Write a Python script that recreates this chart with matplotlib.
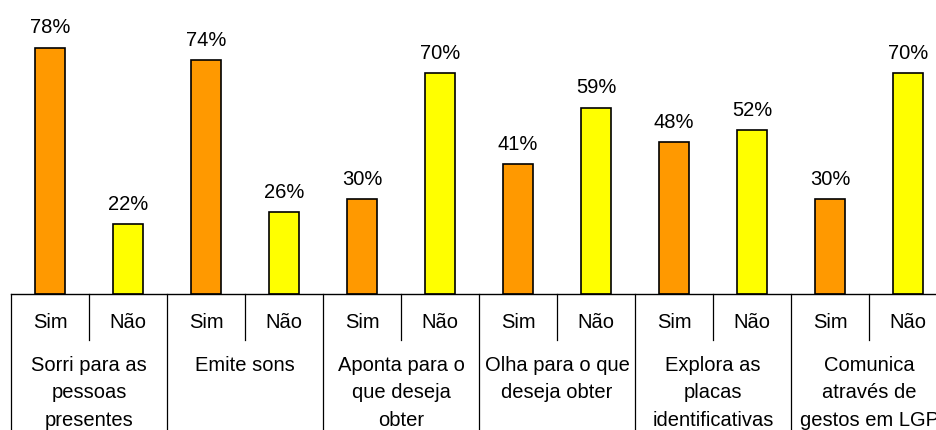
import matplotlib
matplotlib.use("Agg")
import matplotlib.pyplot as plt
import matplotlib.transforms as mtransforms

plt.rcParams['font.family'] = ['Liberation Sans', 'DejaVu Sans']

# Data
groups = ["Sorri para as\npessoas\npresentes", "Emite sons", "Aponta para o\nque deseja\nobter",
          "Olha para o que\ndeseja obter", "Explora as\nplacas\nidentificativas",
          "Comunica\natravés de\ngestos em LGP"]
answers = ["Sim", "Não"]
sim_values = [78, 74, 30, 41, 48, 30]
nao_values = [22, 26, 70, 59, 52, 70]

colors = {"Sim": "#FF9900", "Não": "#FFFF00"}

W, H = 936, 430
FS = 14.5
fig = plt.figure(figsize=(W / 100, H / 100), dpi=100)
base_y = 294
ax = fig.add_axes([11 / W, (H - base_y) / H, 1.0, base_y / H])

# Build bar positions
positions, values, bar_colors, labels = [], [], [], []
for i in range(len(groups)):
    for j, ans in enumerate(answers):
        positions.append(i * 2 + j)
        values.append(sim_values[i] if ans == "Sim" else nao_values[i])
        bar_colors.append(colors[ans])
        labels.append(ans)

ax.bar(positions, values, width=0.385, color=bar_colors, edgecolor="black", linewidth=1.2)
for x, v in zip(positions, values):
    ax.text(x, v + 3.2, f"{v}%", ha="center", va="bottom", fontsize=FS)

ax.set_xlim(-0.5, len(positions) - 0.5)
ax.set_ylim(0, base_y / 3.16)
for s in ["top", "right", "left"]:
    ax.spines[s].set_visible(False)
ax.spines["bottom"].set_linewidth(1.0)
ax.set_xticks([])
ax.set_yticks([])

# Hierarchical axis labels
trans = mtransforms.blended_transform_factory(ax.transData, ax.transAxes)
px = 1.0 / base_y
for x, lab in zip(positions, labels):
    ax.text(x, -29 * px, lab, transform=trans, ha="center", va="center", fontsize=FS)
# inner separators (between Sim and Não)
for i in range(len(groups)):
    xi = i * 2 + 0.5
    ax.plot([xi, xi], [0, -46 * px], transform=trans, color="black", lw=0.9, clip_on=False)
# outer separators
for i in range(len(groups) + 1):
    xo = i * 2 - 0.5
    ax.plot([xo, xo], [0, -140 * px], transform=trans, color="black", lw=0.9, clip_on=False)
for i, g in enumerate(groups):
    ax.text(i * 2 + 0.5, -62 * px, g, transform=trans, ha="center", va="top",
            fontsize=FS, linespacing=1.55)

fig.savefig("out.png", dpi=100)
